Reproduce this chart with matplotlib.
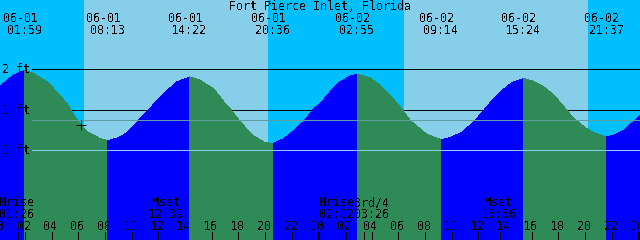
import matplotlib
matplotlib.use("Agg")
import matplotlib.pyplot as plt
import matplotlib.transforms as mtransforms
import numpy as np

plt.rcParams['font.family'] = ['DejaVu Sans Mono', 'DejaVu Sans']
plt.rcParams['text.antialiased'] = False

# ---------------- data ----------------
title = "Fort Pierce Inlet, Florida"

# tide curve: hours since 06-01 00:00 and height in feet
curve_hours = [0.12, 1.1, 1.983, 2.6, 3.65, 4.62, 5.15, 5.6, 6.2, 6.72, 7.62, 8.217,
               8.9, 9.65, 10.4, 11.15, 11.9, 12.65, 13.4, 14.367, 15.12, 16.17,
               16.92, 17.45, 17.9, 18.42, 19.17, 19.92, 20.6, 21.42, 22.17, 22.92,
               23.67, 24.12, 24.87, 25.62, 26.37, 26.917, 27.87, 28.62, 29.37,
               30.12, 30.87, 31.62, 32.15, 32.9, 33.233, 34.02, 34.77, 35.52,
               36.27, 37.02, 37.77, 38.52, 39.4, 40.17, 40.92, 41.67, 42.42,
               43.17, 43.92, 44.67, 45.42, 45.617, 46.17, 46.92, 47.67, 48.12]
curve_feet = [1.58, 1.85, 1.975, 1.90, 1.69, 1.36, 1.15, 0.90, 0.62, 0.45, 0.29, 0.24,
              0.30, 0.43, 0.70, 0.96, 1.23, 1.48, 1.69, 1.81, 1.73, 1.51,
              1.19, 1.00, 0.80, 0.60, 0.35, 0.20, 0.16, 0.29, 0.49, 0.72,
              1.03, 1.15, 1.44, 1.69, 1.83, 1.88, 1.79, 1.60, 1.36,
              1.07, 0.74, 0.53, 0.39, 0.30, 0.26, 0.33, 0.45, 0.66,
              0.93, 1.23, 1.48, 1.67, 1.77, 1.70, 1.56, 1.36, 1.07,
              0.78, 0.58, 0.43, 0.35, 0.33, 0.37, 0.49, 0.72, 0.86]

# high / low tide events
event_hours = [1.983, 8.217, 14.367, 20.6, 26.917, 33.233, 39.4, 45.617]
event_dates = ['06-01', '06-01', '06-01', '06-01', '06-02', '06-02', '06-02', '06-02']
event_times = ['01:59', '08:13', '14:22', '20:36', '02:55', '09:14', '15:24', '21:37']

# sun
sunrise_hours = [6.42, 30.42]
sunset_hours = [20.22, 44.22]

# moon events
moon_hours = [1.433, 12.65, 26.033, 27.433, 37.6]
moon_names = ['Mrise', 'Mset', 'Mrise', '3rd/4', 'Mset']
moon_times = ['01:26', '12:39', '02:02', '03:26', '13:36']
moon_shift_px = [0, 0, -8, 9, 0]

# level lines
grid_levels = [2, 1]
label_levels = [2, 1, 0]
label_texts = ['2 ft', '1 ft', '0 ft']
datum_level = 0.0
msl_level = 0.74

# current-time mark
mark_hour = 6.2
mark_feet = 0.62

tick_hours = list(range(0, 49, 2))
tick_labels = ['%02d' % (h % 24) for h in tick_hours]

x_start, x_end = 0.12, 48.12
y_low, y_high = -2.215, 3.711

# ---------------- style ----------------
night_col = '#00BFFF'
day_col = '#87CEEB'
rise_col = '#0000FF'
fall_col = '#2E8B57'
datum_col = '#87CEEB'
msl_col = '#5F9EA0'
fs = 8.4
W, H = 640, 240
px = 0.72  # one pixel in points

fig = plt.figure(figsize=(6.4, 2.4), dpi=100)
ax = fig.add_axes([0, 0, 1, 1])
ax.set_xlim(x_start, x_end)
ax.set_ylim(y_low, y_high)
ax.set_axis_off()

# sky
ax.axvspan(x_start, x_end, color=night_col, lw=0, antialiased=False, zorder=0)
for sr, ss in zip(sunrise_hours, sunset_hours):
    ax.axvspan(sr, ss, color=day_col, lw=0, antialiased=False, zorder=0.5)

# black level lines behind water
for lv in grid_levels:
    ln = ax.axhline(lv, xmin=32 / W, xmax=1, color='black', lw=px, antialiased=False)
    ln.set_zorder(0.8)

# water
h = np.array(curve_hours)
f = np.array(curve_feet)
bounds = [x_start] + event_hours + [x_end]
for b0, b1 in zip(bounds[:-1], bounds[1:]):
    m = (h >= b0 - 1e-9) & (h <= b1 + 1e-9)
    hh, ff = h[m], f[m]
    col = rise_col if ff[-1] > ff[0] else fall_col
    xs = np.concatenate([hh, [hh[-1], hh[0]]])
    ys = np.concatenate([ff, [y_low, y_low]])
    polys = ax.fill(xs, ys, facecolor=col, edgecolor='none', lw=0, antialiased=False)
    for p in polys:
        p.set_zorder(2)

# datum and MSL lines over water
for lv, c in ((datum_level, datum_col), (msl_level, msl_col)):
    ln = ax.axhline(lv, xmin=32 / W, xmax=1, color=c, lw=px, antialiased=False)
    ln.set_zorder(3)

# mark
ax.plot([mark_hour], [mark_feet], marker='+', color='black', ms=6.5, mew=px, zorder=4)

# level labels
tr_ay = mtransforms.blended_transform_factory(ax.transAxes, ax.transData)
for lv, t in zip(label_levels, label_texts):
    ax.annotate(t, xy=(0, lv), xycoords=tr_ay, xytext=(2, -4), textcoords='offset pixels',
                ha='left', va='baseline', fontsize=fs, color='black', zorder=5)

# title and event labels
tr_xa = mtransforms.blended_transform_factory(ax.transData, ax.transAxes)
ax.text(0.5, 1 - 10 / H, title, transform=ax.transAxes, ha='center', va='baseline',
        fontsize=fs, color='black', zorder=5)
for eh, d, t in zip(event_hours, event_dates, event_times):
    ax.annotate(d, xy=(eh, 1 - 22 / H), xycoords=tr_xa, xytext=(-4.5, 0),
                textcoords='offset pixels', ha='center', va='baseline', fontsize=fs, zorder=5)
    ax.annotate(t, xy=(eh, 1 - 33.5 / H), xycoords=tr_xa, xytext=(-0.5, 0),
                textcoords='offset pixels', ha='center', va='baseline', fontsize=fs, zorder=5)

# moon labels
for mh, n, t, s in zip(moon_hours, moon_names, moon_times, moon_shift_px):
    ax.annotate(n, xy=(mh, 1 - 206.5 / H), xycoords=tr_xa, xytext=(s - 1, 0),
                textcoords='offset pixels', ha='center', va='baseline', fontsize=fs, zorder=5)
    ax.annotate(t, xy=(mh, 1 - 218 / H), xycoords=tr_xa, xytext=(s - 1, 0),
                textcoords='offset pixels', ha='center', va='baseline', fontsize=fs, zorder=5)

# hour ticks and labels
for th, tl in zip(tick_hours, tick_labels):
    ax.annotate(tl, xy=(th, 1 - 230 / H), xycoords=tr_xa, xytext=(-1, 0),
                textcoords='offset pixels', ha='center', va='baseline', fontsize=fs, zorder=5)
    lw = 3 * px if th % 24 == 0 else px
    ax.vlines(th, 0, 8.5 / H, transform=tr_xa, color='black', lw=lw, antialiased=False, zorder=5)
for mh in moon_hours:
    ax.vlines(mh, 0, 8.5 / H, transform=tr_xa, color='black', lw=px, antialiased=False, zorder=5)

fig.savefig('out.png', dpi=100)
